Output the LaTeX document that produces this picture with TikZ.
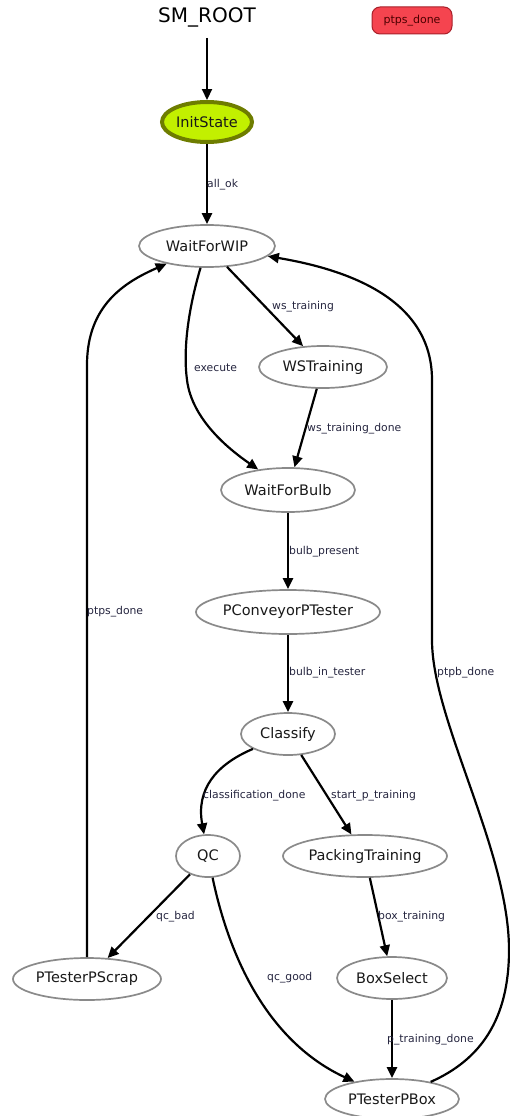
\documentclass[tikz,border=0pt]{standalone}
\usepackage{fontspec}
\setmainfont{DejaVu Sans}
\usetikzlibrary{arrows.meta,shapes.geometric}
\definecolor{edgegray}{HTML}{8A8A8A}
\definecolor{lblcol}{HTML}{25253F}
\definecolor{initfill}{HTML}{C2F000}
\definecolor{initdraw}{HTML}{6E7D00}
\definecolor{redfill}{HTML}{F5444F}
\definecolor{reddraw}{HTML}{A8202A}
\tikzset{
  st/.style={ellipse, draw=edgegray, line width=1.7pt, fill=white, inner sep=0pt,
    font=\fontsize{14.5}{17}\selectfont, text=black!90},
  tr/.style={line width=2.2pt, -{Triangle[length=11pt,width=10pt]}},
  lbl/.style={anchor=west, inner sep=0pt, text=lblcol, font=\fontsize{10.8}{12}\selectfont},
}
\begin{document}
\begin{tikzpicture}[x=1pt,y=-1pt]
\useasboundingbox (0,0) rectangle (509,1116);
% nodes
\node[inner sep=0pt, font=\fontsize{20}{24}\selectfont] (root) at (207,17) {SM\_ROOT};
\node[rectangle, rounded corners=8pt, draw=reddraw, fill=redfill, line width=1pt,
  minimum width=80pt, minimum height=27pt, inner sep=0pt, text=black!70!red,
  font=\fontsize{11}{13}\selectfont] (outc) at (412,20.5) {ptps\_done};
\node[st, draw=initdraw, fill=initfill, line width=4pt, minimum width=90pt, minimum height=40pt] (init) at (207,122) {InitState};
\node[st, minimum width=136pt, minimum height=42pt] (wfw) at (207,246) {WaitForWIP};
\node[st, minimum width=128pt, minimum height=42pt] (wst) at (323,367) {WSTraining};
\node[st, minimum width=134pt, minimum height=44pt] (wfb) at (288,490) {WaitForBulb};
\node[st, minimum width=184pt, minimum height=44pt] (pcp) at (288,612) {PConveyorPTester};
\node[st, minimum width=94pt, minimum height=42pt] (cls) at (288,734) {Classify};
\node[st, minimum width=64pt, minimum height=42pt] (qc) at (208,856) {QC};
\node[st, minimum width=164pt, minimum height=42pt] (pkt) at (365,856) {PackingTraining};
\node[st, minimum width=148pt, minimum height=42pt] (psc) at (87,979) {PTesterPScrap};
\node[st, minimum width=110pt, minimum height=42pt] (bsel) at (392,978) {BoxSelect};
\node[st, minimum width=134pt, minimum height=40pt] (pbox) at (392,1099) {PTesterPBox};
% helper coordinates
\coordinate (ex1) at (187,380);
\coordinate (ps1) at (87,365);
\coordinate (pb1) at (509,950);
\coordinate (pb2) at (432,640);
\coordinate (pb3) at (432,380);
% edges
\draw[tr, shorten <=11pt] (root) -- (init);
\draw[tr] (init) -- (wfw);
\draw[tr] (wfw) -- (wst);
\draw[tr] (wfw) .. controls (188,310) and (183,350) .. (ex1) .. controls (192,420) and (230,450) .. (wfb);
\draw[tr] (wst) -- (wfb);
\draw[tr] (wfb) -- (pcp);
\draw[tr] (pcp) -- (cls);
\draw[tr] (cls) .. controls (215,765) and (196,790) .. (qc);
\draw[tr] (cls) -- (pkt);
\draw[tr] (qc) -- (psc);
\draw[tr] (qc) .. controls (232,970) and (275,1045) .. (pbox);
\draw[tr] (pkt) -- (bsel);
\draw[tr] (bsel) -- (pbox);
\draw[tr] (psc) -- (ps1) .. controls (87,305) and (125,282) .. (wfw);
\draw[tr] (pbox) .. controls (480,1060) and (509,1020) .. (pb1) .. controls (509,850) and (432,720) .. (pb2) -- (pb3) .. controls (432,300) and (350,270) .. (wfw);
% edge labels
\node[lbl] (l1) at (207,185) {all\_ok};
\node[lbl] (l2) at (272,307) {ws\_training};
\node[lbl] (l3) at (194,368) {execute};
\node[lbl] (l4) at (307,429) {ws\_training\_done};
\node[lbl] (l5) at (289,552) {bulb\_present};
\node[lbl] (l6) at (289,673) {bulb\_in\_tester};
\node[lbl] (l7) at (437,673) {ptpb\_done};
\node[lbl] (l8) at (87,612) {ptps\_done};
\node[lbl] (l9) at (203,796) {classification\_done};
\node[lbl] (l10) at (331,796) {start\_p\_training};
\node[lbl] (l11) at (156,917) {qc\_bad};
\node[lbl] (l12) at (267,978) {qc\_good};
\node[lbl] (l13) at (378,917) {box\_training};
\node[lbl] (l14) at (387,1040) {p\_training\_done};
\end{tikzpicture}
\end{document}
